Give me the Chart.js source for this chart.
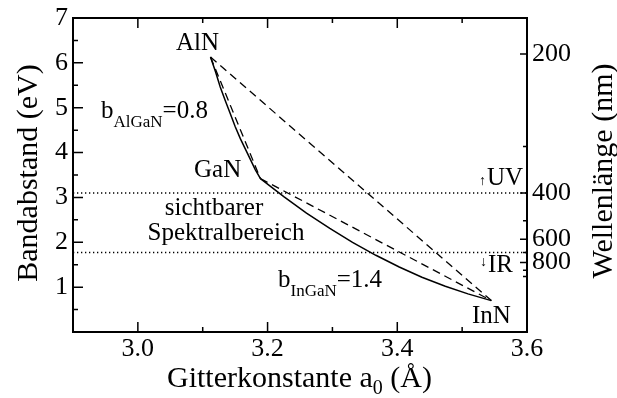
<!DOCTYPE html>
<html>
<head>
<meta charset="utf-8">
<script src="https://cdn.jsdelivr.net/npm/chart.js@4"></script>
<style>
  html, body { margin: 0; padding: 0; background: #fff; }
  #wrap { width: 617px; height: 398px; }
</style>
</head>
<body>
<div id="wrap"><canvas id="chart" width="617" height="398"></canvas></div>
<script>
// binary end points: lattice constant a0 (Å) and band gap (eV)
let compounds = ["AlN", "GaN", "InN"];
let latticeA = [3.112, 3.189, 3.545];
let gapE = [6.13, 3.42, 0.70];

// bowed curves (GaN -> AlN, GaN -> InN)
let alganA = [3.189, 3.181, 3.174, 3.166, 3.158, 3.150, 3.143, 3.135, 3.127, 3.120, 3.112];
let alganE = [3.42, 3.62, 3.83, 4.07, 4.31, 4.58, 4.85, 5.15, 5.46, 5.79, 6.13];
let inganA = [3.189, 3.225, 3.260, 3.296, 3.331, 3.367, 3.403, 3.438, 3.474, 3.509, 3.545];
let inganE = [3.42, 3.02, 2.65, 2.31, 2.00, 1.71, 1.45, 1.22, 1.02, 0.85, 0.70];

// visible range limits (eV)
let uvEdge = 3.1;
let irEdge = 1.77;

// ticks
let xTicks = [3.0, 3.2, 3.4, 3.6];
let xMinor = [3.1, 3.3, 3.5];
let yTicks = [1, 2, 3, 4, 5, 6, 7];
let yMinor = [0.5, 1.5, 2.5, 3.5, 4.5, 5.5, 6.5];
let waveTicks = [200, 400, 600, 800];
let waveMinor = [300, 500, 700, 900, 1000];

const hc = 1239.84;
const serif = "'Liberation Serif', 'DejaVu Serif', serif";

function pts(xs, ys) {
  return xs.map((x, i) => ({ x: x, y: ys[i] }));
}

function line(data, dash, width) {
  return {
    data: data,
    borderColor: "#000",
    borderWidth: width,
    borderDash: dash,
    pointRadius: 0,
    fill: false,
    tension: 0,
  };
}

let a0 = latticeA[0], a1 = latticeA[1], a2 = latticeA[2];
let e0 = gapE[0], e1 = gapE[1], e2 = gapE[2];

let datasets = [
  line(pts(alganA, alganE), [], 1.5),
  line(pts(inganA, inganE), [], 1.5),
  line([{ x: a0, y: e0 }, { x: a1, y: e1 }], [8, 5], 1.3),
  line([{ x: a1, y: e1 }, { x: a2, y: e2 }], [8, 5], 1.3),
  line([{ x: a0, y: e0 }, { x: a2, y: e2 }], [8, 5], 1.3),
  line([{ x: 2.9, y: uvEdge }, { x: 3.6, y: uvEdge }], [1.3, 2.7], 1.5),
  line([{ x: 2.9, y: irEdge }, { x: 3.6, y: irEdge }], [1.3, 2.7], 1.5),
];

function text(ctx, s, x, y, size, align) {
  ctx.font = size + "px " + serif;
  ctx.textAlign = align || "left";
  ctx.fillText(s, x, y);
  return ctx.measureText(s).width;
}

// frame, inward ticks, titles and annotations
let decor = {
  id: "decor",
  afterDraw(chart) {
    let ctx = chart.ctx;
    let area = chart.chartArea;
    let sx = chart.scales.x, sy = chart.scales.y;
    ctx.save();
    ctx.strokeStyle = "#000";
    ctx.fillStyle = "#000";
    ctx.lineWidth = 2;
    ctx.strokeRect(area.left, area.top, area.right - area.left, area.bottom - area.top);

    ctx.lineWidth = 1.5;
    ctx.beginPath();
    function xt(v, len) {
      let px = sx.getPixelForValue(v);
      ctx.moveTo(px, area.bottom); ctx.lineTo(px, area.bottom - len);
      ctx.moveTo(px, area.top); ctx.lineTo(px, area.top + len);
    }
    xTicks.forEach(v => xt(v, 10));
    xMinor.forEach(v => xt(v, 5));
    yTicks.forEach(v => { let py = sy.getPixelForValue(v); ctx.moveTo(area.left, py); ctx.lineTo(area.left + 10, py); });
    yMinor.forEach(v => { let py = sy.getPixelForValue(v); ctx.moveTo(area.left, py); ctx.lineTo(area.left + 5, py); });
    waveTicks.forEach(w => { let py = sy.getPixelForValue(hc / w); ctx.moveTo(area.right, py); ctx.lineTo(area.right - 7, py); });
    waveMinor.forEach(w => { let py = sy.getPixelForValue(hc / w); ctx.moveTo(area.right, py); ctx.lineTo(area.right - 4, py); });
    ctx.stroke();

    ctx.textBaseline = "alphabetic";
    // axis titles
    ctx.save();
    ctx.translate(37, 173);
    ctx.rotate(-Math.PI / 2);
    text(ctx, "Bandabstand (eV)", 0, 0, 30, "center");
    ctx.restore();
    ctx.save();
    ctx.translate(612, 171);
    ctx.rotate(-Math.PI / 2);
    text(ctx, "Wellenlänge (nm)", 0, 0, 30, "center");
    ctx.restore();

    let x = 167, base = 387;
    x += text(ctx, "Gitterkonstante a", x, base, 30);
    x += text(ctx, "0", x, base + 7, 20);
    text(ctx, " (Å)", x, base, 30);

    // labels
    text(ctx, compounds[0], 176, 50, 25);
    text(ctx, compounds[1], 194, 177, 25);
    text(ctx, compounds[2], 472, 323, 25);

    x = 101;
    x += text(ctx, "b", x, 118, 25);
    x += text(ctx, "AlGaN", x, 127, 17);
    text(ctx, "=0.8", x, 118, 25);

    x = 278;
    x += text(ctx, "b", x, 287, 25);
    x += text(ctx, "InGaN", x, 296, 17);
    text(ctx, "=1.4", x, 287, 25);

    text(ctx, "sichtbarer", 214, 215, 25, "center");
    text(ctx, "Spektralbereich", 226, 240, 25, "center");

    text(ctx, "UV", 523, 185, 25, "right");
    text(ctx, "↑", 486, 185, 14, "right");
    text(ctx, "IR", 513, 272, 25, "right");
    text(ctx, "↓", 487, 266, 14, "right");
    ctx.restore();
  },
};

let tickFont = { family: serif, size: 26, lineHeight: 1 };
let noGrid = { display: false, drawTicks: false };

new Chart(document.getElementById("chart").getContext("2d"), {
  type: "line",
  data: { datasets: datasets },
  options: {
    responsive: false,
    animation: false,
    layout: { padding: { top: 14, left: 0, right: 0, bottom: 0 } },
    plugins: { legend: { display: false }, tooltip: { enabled: false } },
    scales: {
      x: {
        type: "linear",
        min: 2.9,
        max: 3.6,
        grid: noGrid,
        border: { display: false },
        ticks: { font: tickFont, color: "#000", padding: 4, maxRotation: 0, callback: v => v.toFixed(1) },
        afterBuildTicks: s => { s.ticks = xTicks.map(v => ({ value: v })); },
        afterFit: s => { s.height = 66; },
      },
      y: {
        position: "left",
        min: 0,
        max: 7,
        grid: noGrid,
        border: { display: false },
        ticks: { font: tickFont, color: "#000", padding: 5 },
        afterBuildTicks: s => { s.ticks = yTicks.map(v => ({ value: v })); },
        afterFit: s => { s.width = 73; },
      },
      yr: {
        position: "right",
        min: 0,
        max: 7,
        grid: noGrid,
        border: { display: false },
        ticks: { font: tickFont, color: "#000", padding: 5, callback: v => String(Math.round(hc / v)) },
        afterBuildTicks: s => { s.ticks = waveTicks.map(w => ({ value: hc / w })); },
        afterFit: s => { s.width = 90; },
      },
    },
  },
  plugins: [decor],
});
</script>
</body>
</html>
